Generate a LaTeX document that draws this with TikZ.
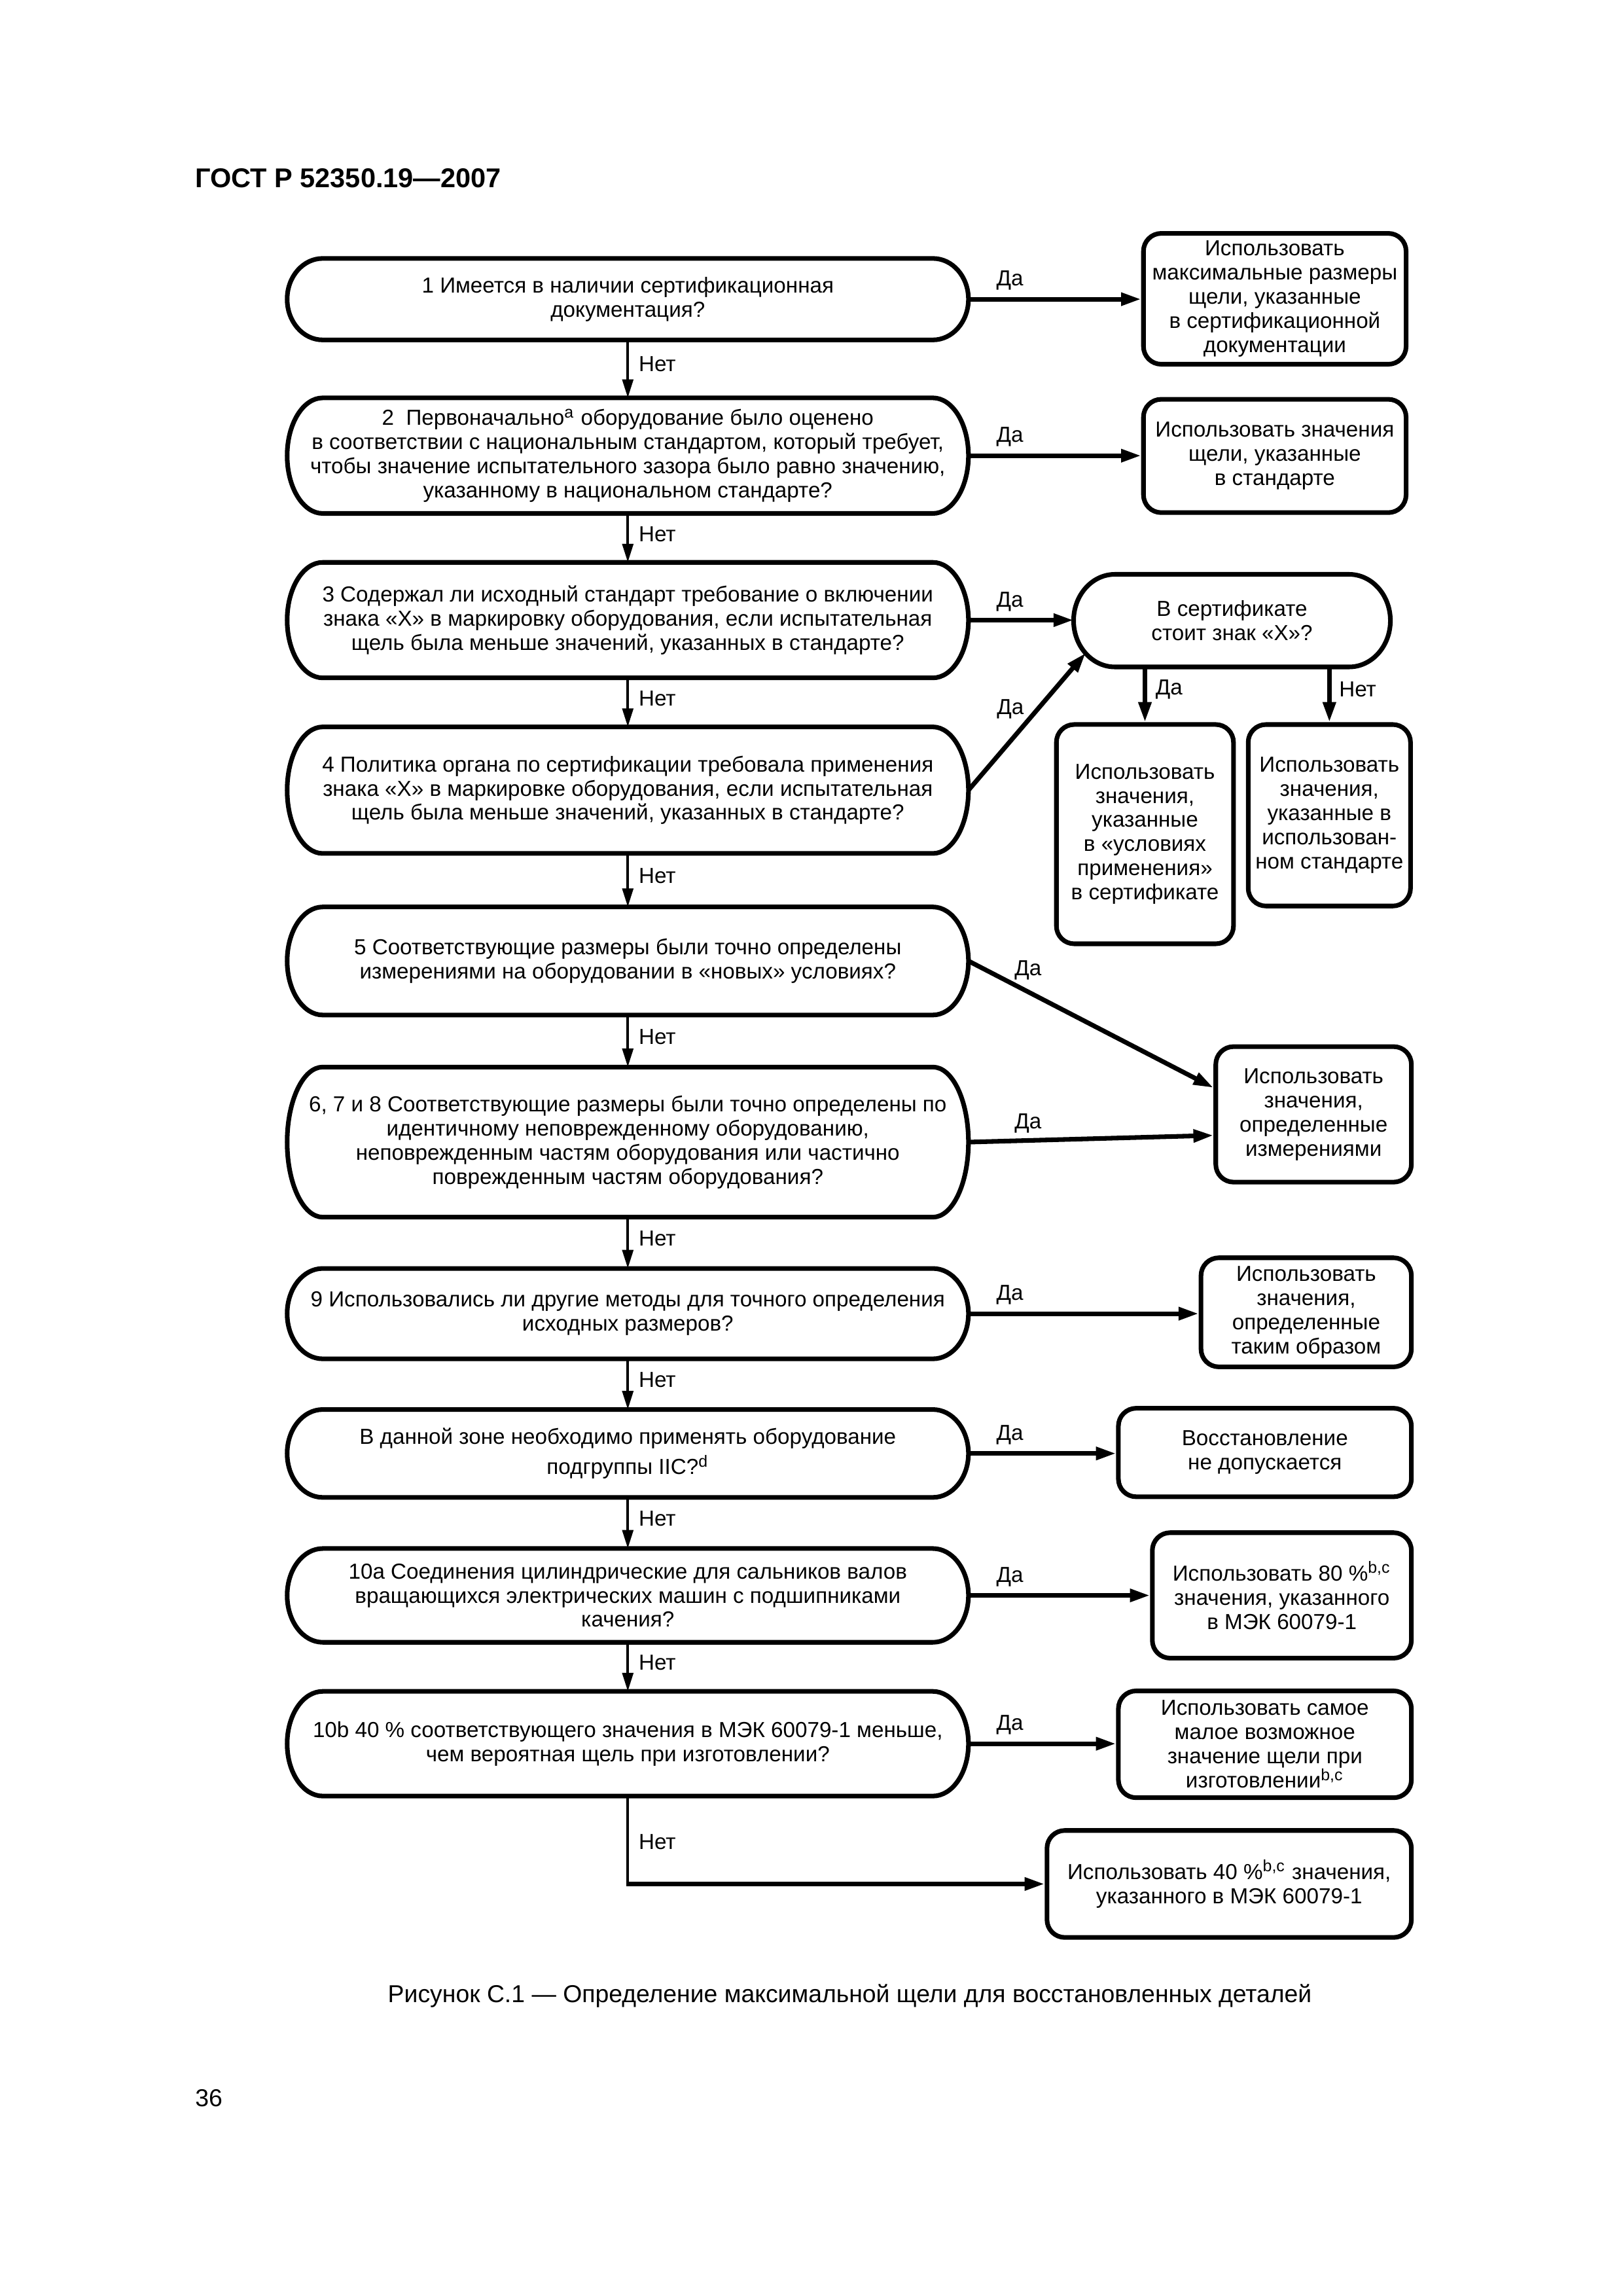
\documentclass[tikz,border=0pt]{standalone}
\usepackage{fontspec}
\setmainfont{Liberation Sans}
\usetikzlibrary{arrows.meta,calc}
\newcommand\boxfont{\fontsize{8}{8.9}\selectfont}
\newcommand\stadium[2]{%
  \draw[boxline] let \p1=(#1.north east), \p2=(#1.south west), \n1={(\y1-\y2)/2} in
    ([xshift=#2]#1.north west) -- ([xshift=-#2]#1.north east)
    arc[start angle=90, end angle=-90, x radius=#2, y radius=\n1]
    -- ([xshift=#2]#1.south west)
    arc[start angle=270, end angle=90, x radius=#2, y radius=\n1] -- cycle;}
\begin{document}
\begin{tikzpicture}[x=0.190909mm, y=-0.190909mm,
  lbox/.style={rectangle, inner sep=0pt, align=center, font=\boxfont, minimum width=88.01mm},
  certbox/.style={rectangle, inner sep=0pt, align=center, font=\boxfont},
  rbox/.style={rectangle, draw, line width=1.7pt, rounded corners=2.3mm, inner sep=0pt, align=center, font=\boxfont},
  boxline/.style={line width=1.7pt, line join=round},
  yesarr/.style={line width=1.7pt, -{Triangle[length=2.6mm,width=1.6mm]}},
  noarr/.style={line width=1pt, -{Triangle[length=2.4mm,width=1.4mm]}},
  lab/.style={inner sep=0pt, font=\boxfont},
  nolab/.style={lab, anchor=west, xshift=1.25mm},
]
\fill[white] (0,0) rectangle (1100,1556);
\useasboundingbox (0,0) rectangle (1100,1556);

\node[anchor=west, inner sep=0pt, font=\bfseries\fontsize{10}{12}\selectfont] (title) at (132,120.6) {ГОСТ Р 52350.19—2007};

% left column
\node[lbox, minimum height=10.40mm] (b1) at (425.5,202.75) {1 Имеется в наличии сертификационная\\документация?};
\node[lbox, minimum height=14.81mm] (b2) at (425.5,308.8) {2~ Первоначально\textsuperscript{a} оборудование было оценено\\в соответствии с национальным стандартом, который требует,\\чтобы значение испытательного зазора было равно значению,\\указанному в национальном стандарте?};
\node[lbox, minimum height=14.80mm] (b3) at (425.5,420.25) {3 Содержал ли исходный стандарт требование о включении\\знака «X» в маркировку оборудования, если испытательная\\щель была меньше значений, указанных в стандарте?};
\node[lbox, minimum height=16.23mm] (b4) at (425.5,535.5) {4 Политика органа по сертификации требовала применения\\знака «X» в маркировке оборудования, если испытательная\\щель была меньше значений, указанных в стандарте?};
\node[lbox, minimum height=13.84mm] (b5) at (425.5,651.25) {5 Соответствующие размеры были точно определены\\измерениями на оборудовании в «новых» условиях?};
\node[lbox, minimum height=19.28mm] (b6) at (425.5,774) {6, 7 и 8 Соответствующие размеры были точно определены по\\идентичному неповрежденному оборудованию,\\неповрежденным частям оборудования или частично\\поврежденным частям оборудования?};
\node[lbox, minimum height=11.55mm] (b9) at (425.5,890.25) {9 Использовались ли другие методы для точного определения\\исходных размеров?};
\node[lbox, minimum height=11.23mm] (b11) at (425.5,985) {В данной зоне необходимо применять оборудование\\[0.8mm]подгруппы IIC?\textsuperscript{d}};
\node[lbox, minimum height=11.99mm] (b10a) at (425.5,1081.2) {10a Соединения цилиндрические для сальников валов\\вращающихся электрических машин с подшипниками\\качения?};
\node[lbox, minimum height=13.40mm] (b10b) at (425.5,1181.7) {10b 40~\% соответствующего значения в МЭК 60079-1 меньше,\\чем вероятная щель при изготовлении?};
\foreach \bx in {b1,b2,b3,b4,b5,b6,b9,b11,b10a,b10b} {\stadium{\bx}{4.6mm}}

% right column
\node[rbox, minimum width=33.98mm, minimum height=16.93mm] (r1) at (864,202.5) {Использовать\\максимальные размеры\\щели, указанные\\в сертификационной\\документации};
\node[rbox, minimum width=33.98mm, minimum height=14.66mm] (r2) at (864,309) {Использовать значения\\щели, указанные\\в стандарте};
\node[certbox, minimum width=40.85mm, minimum height=11.84mm] (cert) at (835,420.6) {В сертификате\\стоит знак «X»?};
\stadium{cert}{5.35mm}
\node[rbox, minimum width=22.91mm, minimum height=28.37mm] (c1) at (776,565.3) {Использовать\\значения,\\указанные\\в «условиях\\применения»\\в сертификате};
\node[rbox, minimum width=21.0mm, minimum height=23.48mm] (c2) at (901,552.5) {Использовать\\значения,\\указанные в\\использован-\\ном стандарте};
\node[rbox, minimum width=25.31mm, minimum height=17.53mm] (r5) at (890.3,755.2) {Использовать\\значения,\\определенные\\измерениями};
\node[rbox, minimum width=27.22mm, minimum height=14.11mm] (r9) at (885.3,889.35) {Использовать\\значения,\\определенные\\таким образом};
\node[rbox, minimum width=37.91mm, minimum height=11.45mm] (r11) at (857.3,984.35) {Восстановление\\не допускается};
\node[rbox, minimum width=33.52mm, minimum height=16.23mm] (r10a) at (868.8,1081.2) {Использовать 80~\%\textsuperscript{b,c}\\значения, указанного\\в МЭК 60079-1};
\node[rbox, minimum width=37.91mm, minimum height=13.82mm] (r10b) at (857.3,1182.1) {Использовать самое\\малое возможное\\значение щели при\\изготовлении\textsuperscript{b,c}};
\node[rbox, minimum width=47.15mm, minimum height=13.84mm] (rl) at (833.1,1276.75) {Использовать 40~\%\textsuperscript{b,c} значения,\\указанного в МЭК 60079-1};

% "yes" horizontal connectors
\foreach \a/\b/\k in {b1/r1/1, b2/r2/2, b3/cert/3, b9/r9/9, b11/r11/11, b10a/r10a/10a, b10b/r10b/10b} {
  \draw[yesarr] (\a.east) -- (\a.east -| \b.west);
  \node[lab] (y\k) at ([shift={(5.35mm,2.4mm)}]\a.east) {Да};
}

% "no" vertical connectors
\foreach \a/\b in {b1/b2, b2/b3, b3/b4, b4/b5, b5/b6, b6/b9, b9/b11, b11/b10a, b10a/b10b} {
  \draw[noarr] (\a) -- node[nolab, pos=0.42] (n\a) {Нет} (\b);
}

% diagonal from 4 to certificate question
\coordinate (certin) at ([shift={(1.57mm,-4.18mm)}]cert.west);
\draw[yesarr] (b4.east) -- (certin);
\node[lab] (y4) at ([shift={(5.42mm,10.5mm)}]b4.east) {Да};

% certificate branches
\draw[yesarr] (cert.south -| c1.north) -- (c1.north);
\node[lab, anchor=west] (yc) at ([shift={(1.32mm,-2.92mm)}]cert.south -| c1.north) {Да};
\draw[yesarr] (cert.south -| c2.north) -- (c2.north);
\node[lab, anchor=west] (nc) at ([shift={(1.2mm,-2.92mm)}]cert.south -| c2.north) {Нет};

% 5 and 6-8 to measured values
\coordinate (r5a) at ($(r5.north west)!0.31!(r5.south west)$);
\coordinate (r5b) at ($(r5.north west)!0.65!(r5.south west)$);
\draw[yesarr] (b5.east) -- node[lab, pos=0.243, yshift=2.75mm] (y5) {Да} (r5a);
\draw[yesarr] (b6.east) -- node[lab, pos=0.243, yshift=2.2mm] (y6) {Да} (r5b);

% final "no"
\coordinate (corner) at (b10b.south |- rl.west);
\draw[line width=1pt] (b10b.south) -- node[nolab, pos=0.525] (nl) {Нет} (corner);
\draw[yesarr] ([xshift=-0.5pt]corner) -- (rl.west);

% caption and page number
\node[inner sep=0pt, font=\fontsize{9}{11}\selectfont] (cap) at (576,1352.8) {Рисунок С.1 — Определение максимальной щели для восстановленных деталей};
\node[anchor=west, inner sep=0pt, font=\fontsize{9}{11}\selectfont] (pg) at (132,1422) {36};
\end{tikzpicture}
\end{document}
